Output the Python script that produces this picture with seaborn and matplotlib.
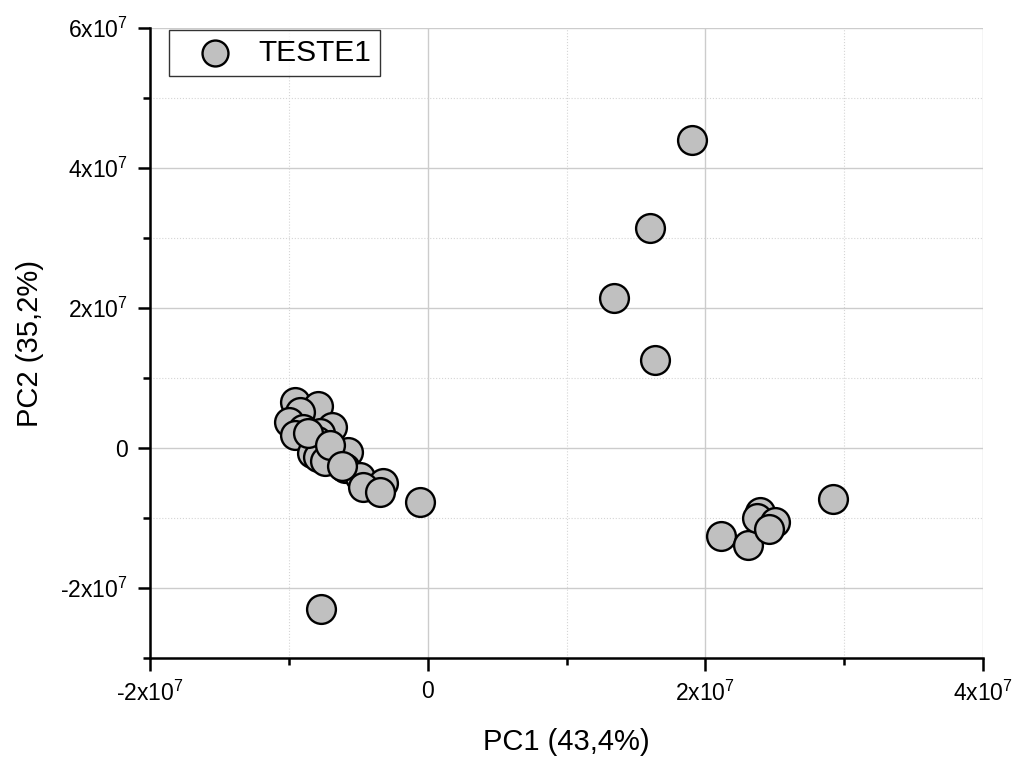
import numpy as np
import pandas as pd
import matplotlib
matplotlib.use("Agg")
import matplotlib.pyplot as plt
import seaborn as sns
from matplotlib.ticker import MultipleLocator, FuncFormatter

sns.set_style("white")
plt.rcParams['font.family'] = ['Liberation Sans', 'DejaVu Sans']
plt.rcParams['mathtext.fontset'] = 'custom'
plt.rcParams['mathtext.rm'] = 'Liberation Sans'
plt.rcParams['mathtext.it'] = 'Liberation Sans'
plt.rcParams['text.color'] = 'black'
plt.rcParams['axes.labelcolor'] = 'black'
plt.rcParams['xtick.color'] = 'black'
plt.rcParams['ytick.color'] = 'black'

# PCA scores (units of 1e7 are converted below)
pc1 = [-0.956, -0.788, -0.920, -0.997, -0.691, -0.896, -0.956, -0.776,
       -0.800, -0.835, -0.790, -0.740, -0.596, -0.575, -0.596, -0.488,
       -0.320, -0.464, -0.343, -0.055, -0.767, -0.860, -0.700, -0.620,
       1.905, 1.601, 1.343, 1.638,
       2.921, 2.110, 2.305, 2.393, 2.369, 2.501, 2.460]
pc2 = [0.661, 0.600, 0.510, 0.376, 0.304, 0.267, 0.186, 0.210,
       0.100, -0.076, -0.130, -0.186, -0.100, -0.060, -0.290, -0.410,
       -0.504, -0.553, -0.624, -0.770, -2.300, 0.220, 0.050, -0.250,
       4.400, 3.143, 2.140, 1.257,
       -0.733, -1.257, -1.386, -0.910, -1.000, -1.050, -1.150]
series_label = "TESTE1"
x_label = "PC1 (43,4%)"
y_label = "PC2 (35,2%)"

df = pd.DataFrame({"PC1": np.array(pc1) * 1e7, "PC2": np.array(pc2) * 1e7})

fig = plt.figure(figsize=(10.17, 7.61), dpi=100)
ax = fig.add_axes([0.1475, 0.1353, 0.8191, 0.8279])

ax.set_xlim(-2e7, 4e7)
ax.set_ylim(-3e7, 6e7)
ax.xaxis.set_major_locator(MultipleLocator(2e7))
ax.xaxis.set_minor_locator(MultipleLocator(1e7))
ax.yaxis.set_major_locator(MultipleLocator(2e7))
ax.yaxis.set_minor_locator(MultipleLocator(1e7))

ax.grid(True, which='major', color='#cccccc', linewidth=1.0, linestyle='-')
ax.grid(True, which='minor', color='#d5d5d5', linewidth=0.8, linestyle=':')
ax.set_axisbelow(True)

sns.scatterplot(data=df, x="PC1", y="PC2", ax=ax, s=430, color='#c0c0c0',
                edgecolor='black', linewidth=1.7, label=series_label, zorder=3)

def fmt(v, pos):
    if abs(v) < 1:
        return "0"
    m = int(round(v / 1e7))
    return r"%dx10$^{7}$" % m

ax.xaxis.set_major_formatter(FuncFormatter(fmt))
ax.yaxis.set_major_formatter(FuncFormatter(fmt))

for s in ['top', 'right']:
    ax.spines[s].set_visible(False)
for s in ['left', 'bottom']:
    ax.spines[s].set_linewidth(1.8)
    ax.spines[s].set_color('black')

ax.tick_params(which='major', direction='out', length=9, width=1.8, labelsize=16.5,
               bottom=True, left=True, colors='black', pad=7)
ax.tick_params(which='minor', direction='out', length=5, width=1.8,
               bottom=True, left=True, colors='black')

ax.set_xlabel(x_label, fontsize=21, labelpad=16, color='black')
ax.set_ylabel(y_label, fontsize=21, labelpad=12, color='black')

leg = ax.legend(loc='upper left', bbox_to_anchor=(0.0228, 0.997), fontsize=21.5,
                frameon=True, fancybox=False, edgecolor='black',
                borderpad=0.3, handletextpad=0.2, markerscale=0.9,
                borderaxespad=0.0, handlelength=2.5)
leg.get_frame().set_linewidth(1.0)
for t in leg.get_texts():
    t.set_color('black')

fig.savefig("out.png", dpi=100)
